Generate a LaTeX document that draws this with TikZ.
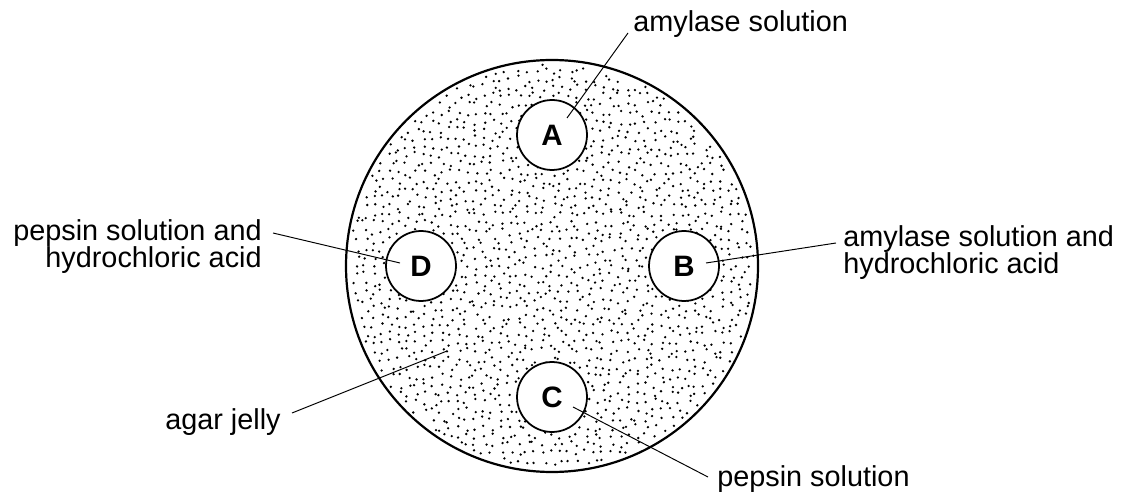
\documentclass[tikz,border=0pt]{standalone}
\usepackage{fontspec}
\setmainfont{Liberation Sans}
\begin{document}
\begin{tikzpicture}[
    x=0.02cm, y=-0.02cm,
    every node/.style={font=\fontsize{16.4pt}{15.9pt}\selectfont, inner sep=0pt},
    well/.style={draw, circle, line width=1pt, fill=white, minimum size=1.4cm, font=\fontsize{16.8pt}{17pt}\selectfont\bfseries},
    leader/.style={draw, line width=0.55pt},
    speck/.style={fill=black}
]
\useasboundingbox (0,0) rectangle (1125,496);
% agar jelly with stipple (jittered grid)
\begin{scope}[shift={(552,266)}]
  \pgfmathsetseed{7}
  \foreach \gx in {-204,-195.5,...,204} {
    \foreach \gy in {-204,-195.5,...,204} {
      \pgfmathsetmacro\px{\gx+7*rnd-3.5}
      \pgfmathsetmacro\py{\gy+7*rnd-3.5}
      \pgfmathtruncatemacro\inside{veclen(\px/10,\py/10)<20.2 ? 1 : 0}
      \ifnum\inside=1 \fill[speck] (\px,\py) circle[radius=1.3]; \fi
    }
  }
  \draw[line width=1.25pt] (0,0) circle[radius=206];
\end{scope}
% wells
\node[well] (A) at (552,135) {A};
\node[well] (B) at (684,266) {B};
\node[well] (C) at (552,397) {C};
\node[well] (D) at (421,266) {D};
% labels
\node[anchor=base west] (lblA) at (633,32) {amylase solution};
\node[anchor=base east, align=right] (lblD) at (262,268) {pepsin solution and\\hydrochloric acid};
\node[anchor=base west, align=left] (lblB) at (843,274) {amylase solution and\\hydrochloric acid};
\node[anchor=base west] (lblC) at (717,486) {pepsin solution};
\node[anchor=base west] (lblagar) at (165,429) {agar jelly};
% leader lines
\coordinate (tipA) at (567,118);
\coordinate (tipB) at (706,263);
\coordinate (tipC) at (573,407);
\coordinate (tipD) at (400,263);
\coordinate (tipagar) at (447,351);
\draw[leader] (tipA) -- (628,33);
\draw[leader] (tipD) -- (273,233);
\draw[leader] (tipB) -- (836,243);
\draw[leader] (tipC) -- (708,477);
\draw[leader] (tipagar) -- (292,413);
\end{tikzpicture}
\end{document}
